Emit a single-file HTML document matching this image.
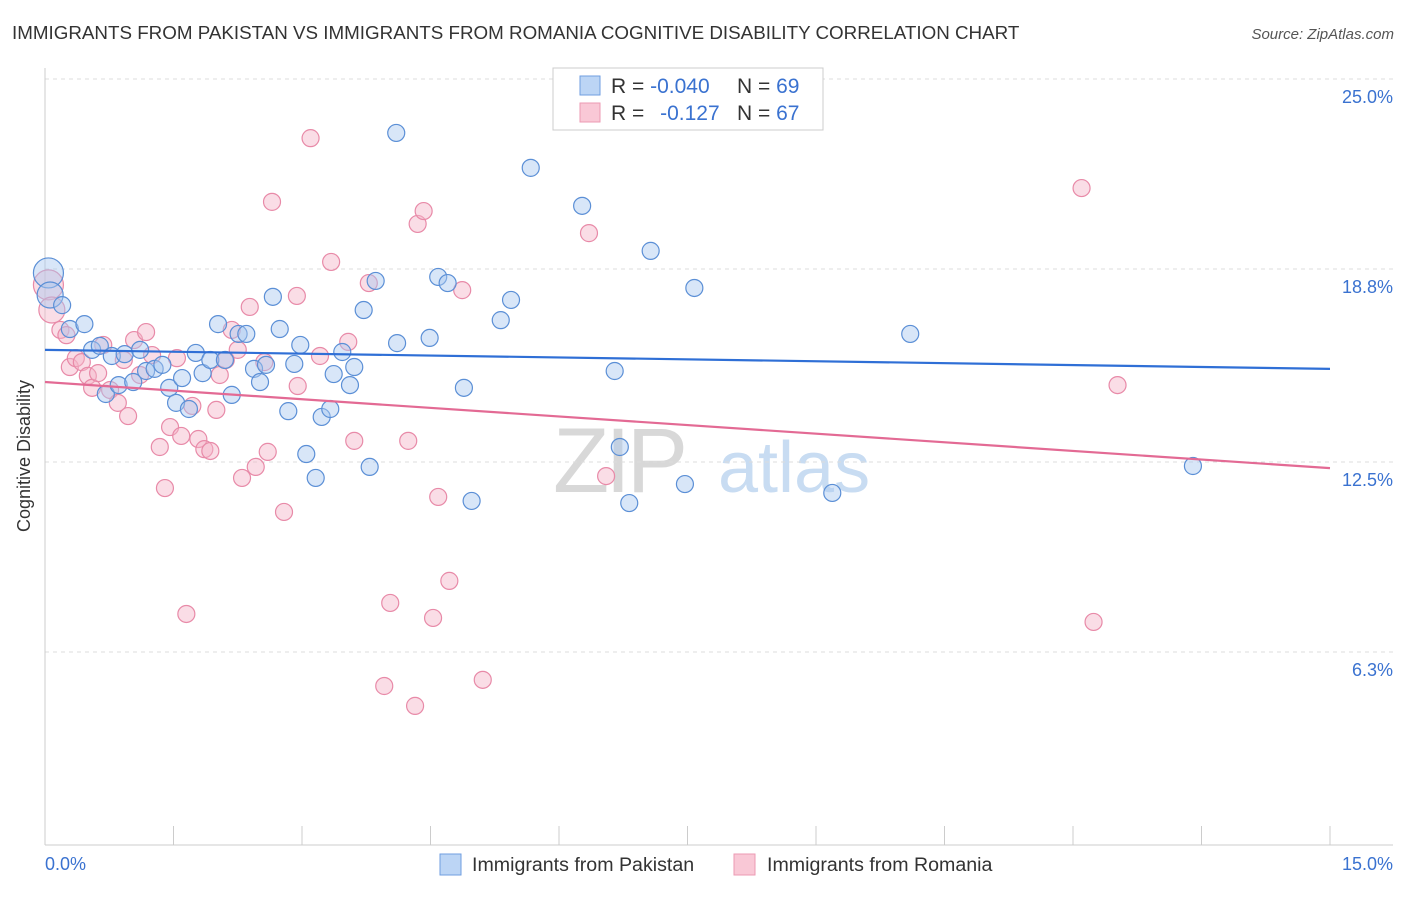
<!DOCTYPE html>
<html><head><meta charset="utf-8"><style>
body{margin:0;background:#fff;font-family:"Liberation Sans",sans-serif;}
svg text{font-family:"Liberation Sans",sans-serif;}
</style></head><body>
<svg id="chart" width="1406" height="892" xmlns="http://www.w3.org/2000/svg">
<text x="12" y="39" font-size="18.8" fill="#333">IMMIGRANTS FROM PAKISTAN VS IMMIGRANTS FROM ROMANIA COGNITIVE DISABILITY CORRELATION CHART</text>
<text x="1394" y="39" font-size="15" fill="#555" font-style="italic" text-anchor="end">Source: ZipAtlas.com</text>
<g>
<text x="553" y="492" font-size="92" fill="#d8d8d8" font-family="Liberation Serif" letter-spacing="-4">ZIP</text>
<text x="718" y="492" font-size="72" fill="#c8dcf2">atlas</text>
</g>
<g id="grid"></g>
<g id="axes"></g>
<g id="pts"></g>
<g id="trends"></g>
<text x="30" y="456" font-size="18" fill="#333" text-anchor="middle" transform="rotate(-90 30 456)">Cognitive Disability</text>
<g>
<rect x="553" y="68" width="270" height="62" fill="#fff" stroke="#ccc"/>
<rect x="580" y="76" width="20" height="19" fill="#bcd5f5" stroke="#6f9ee0"/>
<rect x="580" y="103" width="20" height="19" fill="#f9c8d6" stroke="#ec9ab3"/>
<text x="611" y="93" font-size="21" fill="#333">R = <tspan fill="#3a72d0">-0.040</tspan></text>
<text x="737" y="93" font-size="21" fill="#333">N = <tspan fill="#3a72d0">69</tspan></text>
<text x="611" y="120" font-size="21" fill="#333">R = <tspan fill="#3a72d0" dx="10">-0.127</tspan></text>
<text x="737" y="120" font-size="21" fill="#333">N = <tspan fill="#3a72d0">67</tspan></text>
</g>
<g>
<rect x="440" y="854" width="21" height="21" fill="#bcd5f5" stroke="#6f9ee0"/>
<text x="472" y="871" font-size="19.6" fill="#333">Immigrants from Pakistan</text>
<rect x="734" y="854" width="21" height="21" fill="#f9c8d6" stroke="#ec9ab3"/>
<text x="767" y="871" font-size="19.6" fill="#333">Immigrants from Romania</text>
</g>
</svg>
<script>
const yTicks=[25.0,18.8,12.5,6.3];
const yTickLabels=["25.0%","18.8%","12.5%","6.3%"];
const xTickLabels=["0.0%","15.0%"];
const blueX=[0.04,0.06,0.2,0.29,0.46,0.55,0.64,0.71,0.78,0.86,0.93,1.03,1.11,1.18,1.28,1.37,1.45,1.53,1.6,1.68,1.76,1.84,1.93,2.02,2.1,2.18,2.26,2.35,2.44,2.51,2.58,2.66,2.74,2.84,2.91,2.98,3.05,3.16,3.23,3.33,3.37,3.47,3.56,3.61,3.72,3.79,3.86,4.1,4.11,4.49,4.59,4.7,4.89,4.98,5.32,5.44,5.67,6.27,6.65,6.71,6.82,7.0,7.07,7.47,7.58,9.19,10.1,13.4];
const blueY=[18.67,17.95,17.62,16.84,17.0,16.16,16.29,14.72,15.96,15.01,16.02,15.11,16.16,15.47,15.54,15.67,14.92,14.43,15.24,14.23,16.06,15.4,15.83,17.0,15.83,14.69,16.68,16.68,15.54,15.11,15.67,17.89,16.84,14.16,15.7,16.32,12.76,11.98,13.97,14.23,15.37,16.09,15.01,15.6,17.46,12.34,18.41,23.24,16.38,16.55,18.54,18.34,14.92,11.23,17.13,17.79,22.1,20.86,15.47,12.99,11.16,24.22,19.39,11.78,18.18,11.49,16.68,12.37];
const pinkX=[0.04,0.08,0.18,0.25,0.29,0.36,0.43,0.5,0.55,0.62,0.68,0.76,0.85,0.92,0.97,1.04,1.11,1.18,1.25,1.34,1.4,1.46,1.54,1.59,1.65,1.72,1.79,1.86,1.93,2.0,2.04,2.11,2.18,2.25,2.3,2.39,2.46,2.56,2.6,2.65,2.79,2.94,2.95,3.1,3.21,3.34,3.54,3.61,3.78,3.96,4.03,4.24,4.32,4.35,4.42,4.53,4.59,4.72,4.87,5.11,6.35,6.55,12.1,12.24,12.52];
const pinkY=[18.28,17.46,16.81,16.64,15.6,15.89,15.76,15.31,14.92,15.4,16.32,14.85,14.43,15.83,14.0,16.48,15.34,16.74,15.99,12.99,11.65,13.64,15.89,13.35,7.54,14.33,13.25,12.92,12.86,14.2,15.34,15.83,16.81,16.16,11.98,17.56,12.34,15.76,12.83,20.99,10.87,17.92,14.98,23.07,15.96,19.03,16.42,13.19,18.34,5.19,7.9,13.19,4.54,20.27,20.69,7.41,11.36,8.62,18.11,5.39,19.97,12.04,21.44,7.28,15.01];
const blueTrend=[16.16,15.54];
const pinkTrend=[15.11,12.3];
const NS="http://www.w3.org/2000/svg";
const X0=45,X1=1330,Y0=845,YPER=30.64;
function sx(v){return X0+v/15*(X1-X0);}
function sy(v){return Y0-v*YPER;}
function mk(tag,attrs,parent){const e=document.createElementNS(NS,tag);for(const k in attrs)e.setAttribute(k,attrs[k]);document.getElementById(parent).appendChild(e);return e;}
yTicks.forEach((t,i)=>{
 const l=mk('line',{x1:X0,x2:1393,y1:sy(t),y2:sy(t),stroke:'#dcdcdc','stroke-dasharray':'4,4'},'grid');
 
 
 const tx=mk('text',{x:1393,y:sy(t)+24,'font-size':18,fill:'#3a72d0','text-anchor':'end'},'grid');
 tx.textContent=yTickLabels[i];
 
 
});
let a=mk('line',{x1:X0,x2:X0,y1:68,y2:Y0,stroke:'#ccc'},'axes');


a=mk('line',{x1:X0,x2:1393,y1:Y0,y2:Y0,stroke:'#ccc'},'axes');


for(let i=0;i<=10;i++){
 const t=mk('line',{x1:sx(i*1.5),x2:sx(i*1.5),y1:826,y2:Y0,stroke:'#ccc'},'axes');
 
 
}
[[0,'start',45],[15,'end',1393]].forEach((d,i)=>{
 const t=mk('text',{x:d[2],y:870,'font-size':18,fill:'#3a72d0','text-anchor':d[1]},'axes');
 t.textContent=xTickLabels[i];
 
 
});
function drawSeries(xs,ys,fill,stroke,name){
 xs.forEach((x,i)=>{
  const r=(x<0.1)?(i==0?15:13):8.5;
  const c=mk('circle',{cx:sx(x),cy:sy(ys[i]),r:r,fill:fill,'fill-opacity':0.45,stroke:stroke,'stroke-width':1.2},'pts');
  
  
 });
}
drawSeries(pinkX,pinkY,'#f5b3c8','#e88aa8','point-romania');
drawSeries(blueX,blueY,'#a8c8f0','#5b8fd6','point-pakistan');
let tl=mk('line',{x1:sx(0),x2:sx(15),y1:sy(blueTrend[0]),y2:sy(blueTrend[1]),stroke:'#2f6fd6','stroke-width':2.2},'trends');


tl=mk('line',{x1:sx(0),x2:sx(15),y1:sy(pinkTrend[0]),y2:sy(pinkTrend[1]),stroke:'#e36a94','stroke-width':2.2},'trends');


</script>
</body></html>
